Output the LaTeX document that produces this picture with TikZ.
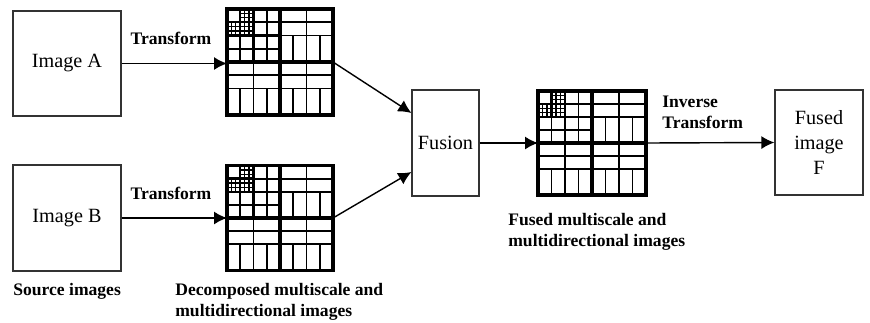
\documentclass[tikz,border=0pt]{standalone}
\usepackage{fontspec}
\setmainfont{Liberation Serif}
\usepackage{tikz}
\usetikzlibrary{arrows.meta}

\tikzset{
  imgbox/.style={draw=black!80,line width=0.7pt,inner sep=0pt,align=center,
    font=\fontsize{11.5}{14}\selectfont},
  gridbox/.style={draw,line width=2pt,inner sep=0pt,outer sep=0pt,fill=white},
  quadline/.style={line width=1.8pt},
  subline/.style={line width=1.4pt},
  thinline/.style={line width=1.1pt},
  fineline/.style={line width=0.7pt},
  flow/.style={black,line width=0.8pt,-{Latex[length=2.6mm,width=2.6mm]}},
  lbl/.style={font=\bfseries,inner sep=0pt,align=left}
}

% wavelet / directional subbands drawn inside a grid node
\newcommand{\subbands}[3]{%
\begin{scope}[shift={(#1.north west)},x=#2,y=-#3]
\draw [quadline] (0.5,0) -- (0.5,1) (0,0.5) -- (1,0.5);
\draw [subline] (0.25,0) -- (0.25,0.5) (0,0.25) -- (0.5,0.25);
\draw [subline] (0.125,0) -- (0.125,0.25) (0,0.125) -- (0.25,0.125);
\draw [thinline] (0.375,0) -- (0.375,0.5) (0.25,0.125) -- (0.5,0.125);
\draw [thinline] (0.125,0.25) -- (0.125,0.5) (0,0.375) -- (0.5,0.375);
\foreach \t in {0.1667,0.2083}
  \draw [fineline] (\t,0) -- (\t,0.25) (0,\t) -- (0.25,\t);
\foreach \t in {0.0417,0.0833}
  \draw [fineline] (\t,0.125) -- (\t,0.25) (0.125,\t) -- (0.25,\t);
\draw [thinline] (0.75,0) -- (0.75,0.5) (0.5,0.125) -- (1,0.125) (0.5,0.25) -- (1,0.25);
\draw [thinline] (0.625,0.25) -- (0.625,0.5) (0.875,0.25) -- (0.875,0.5);
\foreach \s in {0,0.5}
  \draw [thinline] (\s+0.25,0.5) -- (\s+0.25,1) (\s,0.625) -- (\s+0.5,0.625)
    (\s,0.75) -- (\s+0.5,0.75) (\s+0.125,0.75) -- (\s+0.125,1) (\s+0.375,0.75) -- (\s+0.375,1);
\end{scope}}

\begin{document}
\begin{tikzpicture}[x=0.02cm,y=-0.02cm]
\useasboundingbox (0,0) rectangle (870,322);
% source images
\node [imgbox,minimum width=2.16cm,minimum height=2.1cm] (imgA) at (67,63.5) {Image A};
\node [imgbox,minimum width=2.16cm,minimum height=2.12cm] (imgB) at (67,218) {Image B};
% decomposed images
\node [gridbox,minimum width=2.12cm,minimum height=2.12cm] (gridA) at (280,62) {};
\node [gridbox,minimum width=2.12cm,minimum height=2.1cm] (gridB) at (280,218) {};
\subbands{gridA}{2.12cm}{2.12cm}
\subbands{gridB}{2.12cm}{2.1cm}
% fusion and result
\node [imgbox,minimum width=1.34cm,minimum height=2.12cm] (fusion) at (445.5,143) {Fusion};
\node [gridbox,minimum width=2.16cm,minimum height=2.08cm] (gridF) at (592,143) {};
\subbands{gridF}{2.16cm}{2.08cm}
\node [imgbox,minimum width=1.76cm,minimum height=2.1cm] (fused) at (819,142.5) {Fused\\image\\F};
\coordinate (inA) at ([yshift=0.6cm]fusion.west);
\coordinate (inB) at ([yshift=-0.58cm]fusion.west);
% connectors
\draw [flow] (imgA.east) -- (imgA.east -| gridA.west);
\draw [flow] (imgB.east) -- (imgB.east -| gridB.west);
\draw [flow] (gridA.east) -- (inA);
\draw [flow] (gridB.east) -- (inB);
\draw [flow] (fusion.east) -- (gridF.west);
\draw [flow] (gridF.east) -- (fused.west);
% labels
\node [lbl] (tA) at (171,38) {Transform};
\node [lbl] (tB) at (171,193) {Transform};
\node [lbl,anchor=west] (tInv) at (662,112) {Inverse\\Transform};
\node [lbl,anchor=west] (src) at (13,291) {Source images};
\node [lbl,anchor=north west] (dec) at (175,283) {Decomposed multiscale and\\multidirectional images};
\node [lbl,anchor=north west] (fms) at (508,213) {Fused multiscale and\\multidirectional images};
\end{tikzpicture}
\end{document}
